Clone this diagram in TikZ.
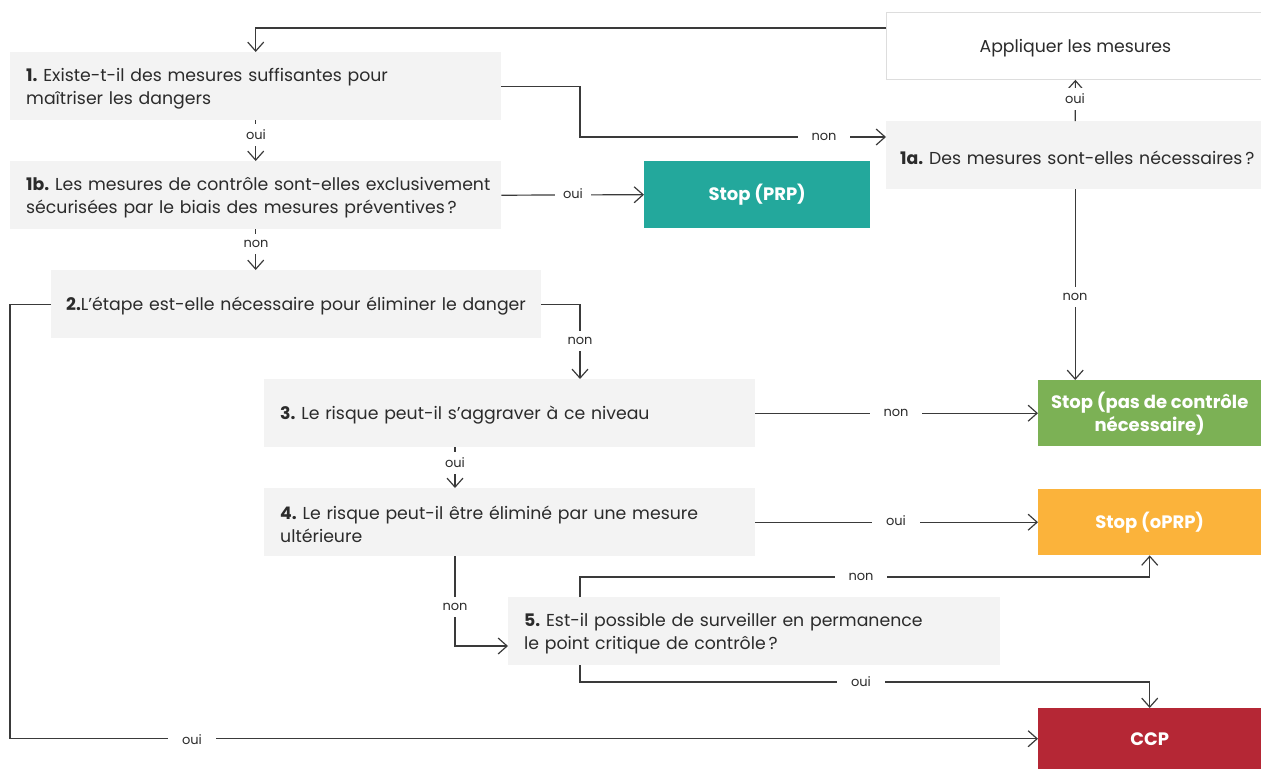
\documentclass[tikz,border=0pt]{standalone}
\usepackage{fontspec}
\setmainfont{Poppins}
\usetikzlibrary{arrows.meta}
\definecolor{boxgray}{HTML}{F3F3F3}
\definecolor{boxline}{HTML}{DDDDDD}
\definecolor{linec}{HTML}{3A3A3A}
\definecolor{txt}{HTML}{2B2B2B}
\definecolor{prpc}{HTML}{23A89C}
\definecolor{greenc}{HTML}{7CB155}
\definecolor{orangec}{HTML}{FBB33B}
\definecolor{redc}{HTML}{B52735}
\newcommand{\qfont}{\fontsize{17.3}{23}\selectfont}
\newcommand{\sfontb}{\fontsize{18}{23}\selectfont\bfseries}
\newcommand{\lfont}{\fontsize{13}{15}\selectfont}
\newcommand{\oneline}[1]{\mbox{#1}}
\newcommand{\firstline}[1]{\mbox{\rule{0pt}{18pt}#1}}
\frenchspacing
\hbadness=10000 \hfuzz=500pt
\begin{document}
\begin{tikzpicture}[x=1pt,y=-1pt,
  qbox/.style={fill=boxgray, anchor=north west, minimum height=68pt, inner xsep=16pt, inner ysep=0pt, align=left, font=\qfont, text=txt},
  stopbox/.style={anchor=north west, minimum width=223pt, minimum height=66pt, inner sep=0pt, text=white, align=center, font=\sfontb},
  con/.style={draw=linec, line width=1.2pt},
  arr/.style={con, -{Straight Barb[length=9pt, width=16pt, line width=1.2pt]}},
  lbl/.style={fill=white, inner xsep=14pt, inner ysep=6pt, font=\lfont, text=txt},
]
\useasboundingbox (0,0) rectangle (1261,769);

% boxes
\node[qbox, text width=459pt] (q1) at (10,52) {\firstline{\textbf{1.} Existe-t-il des mesures suffisantes pour}\\ \oneline{maîtriser les dangers}};
\node[qbox, text width=459pt] (q1b) at (10,161) {\firstline{\textbf{1b.} Les mesures de contrôle sont-elles exclusivement}\\ \oneline{sécurisées par le biais des mesures préventives\,?}};
\node[stopbox, fill=prpc, minimum width=226pt, minimum height=67pt] (prp) at (644,161) {Stop (PRP)};
\node[anchor=north west, fill=white, draw=boxline, line width=0.8pt, minimum width=378pt, minimum height=67pt, inner ysep=0pt, font=\qfont, text=txt] (app) at (886,12) {\firstline{Appliquer les mesures}};
\node[qbox, text width=350pt, inner xsep=14pt, minimum width=378pt] (q1a) at (886,121) {\firstline{\textbf{1a.} Des mesures sont-elles nécessaires\,?}};
\node[qbox, text width=460pt, inner xsep=15pt] (q2) at (51,270) {\firstline{\textbf{2.}L’étape est-elle nécessaire pour éliminer le danger}};
\node[qbox, text width=459pt] (q3) at (264,379) {\firstline{\textbf{3.} Le risque peut-il s’aggraver à ce niveau}};
\node[stopbox, fill=greenc] (green) at (1038,380) {Stop (pas de contrôle\\ nécessaire)};
\node[qbox, text width=459pt] (q4) at (264,488) {\firstline{\textbf{4.} Le risque peut-il être éliminé par une mesure}\\ \oneline{ultérieure}};
\node[stopbox, fill=orangec] (orange) at (1038,489) {Stop (oPRP)};
\node[qbox, text width=460pt] (q5) at (508,597) {\firstline{\textbf{5.} Est-il possible de surveiller en permanence}\\ \oneline{le point critique de contrôle\,?}};
\node[stopbox, fill=redc, minimum height=61pt] (ccp) at (1038,708) {CCP};

% helper coordinates
\coordinate (c28) at (0,28);
\coordinate (k1) at (580,137);
\coordinate (k2) at (580,0);
\coordinate (k3) at (10,0);
\coordinate (k455) at (455,0);
\coordinate (k646) at (0,646);
\coordinate (m1) at (580,577);
\coordinate (m2) at (580,682);

% connectors
\draw[arr] (app.west |- c28) -| (q1.north);
\draw[arr] (q1.east) -| (k1) -- (q1a.west |- k1);
\draw[arr] (q1.south) -- (q1b.north);
\draw[arr] (q1b.east) -- (prp.west);
\draw[arr] (q1b.south) -- (q1b.south |- q2.north);
\draw[arr] (q1a.north) -- (app.south);
\draw[arr] (q1a.south) -- (q1a.south |- green.north);
\draw[arr] (q2.east) -| (q3.north -| k2);
\draw[arr] (q2.west) -| (k3 |- ccp.west) -- (ccp.west);
\draw[arr] (q3.east) -- (green.west);
\draw[arr] (q3.south -| k455) -- (q4.north -| k455);
\draw[arr] (q4.east) -- (orange.west);
\draw[arr] (q4.south -| k455) |- (q5.west |- k646);
\draw[arr] (q5.north -| m1) -- (m1) -| (orange.south);
\draw[arr] (q5.south -| m2) -- (m2) -| (ccp.north);

% labels
\node[lbl] (l1) at (824,137) {non};
\node[lbl] (l2) at (256,135) {oui};
\node[lbl, inner xsep=8pt] (l3) at (573,194) {oui};
\node[lbl] (l4) at (256,244) {non};
\node[lbl] (l5) at (1075,99) {oui};
\node[lbl] (l6) at (1075,297) {non};
\node[lbl] (l7) at (580,341) {non};
\node[lbl] (l8) at (192,740) {oui};
\node[lbl] (l9) at (896,413) {non};
\node[lbl] (l10) at (455,463) {oui};
\node[lbl] (l11) at (896,521) {oui};
\node[lbl] (l12) at (455,607) {non};
\node[lbl] (l13) at (861,577) {non};
\node[lbl] (l14) at (861,682) {oui};
\end{tikzpicture}
\end{document}
